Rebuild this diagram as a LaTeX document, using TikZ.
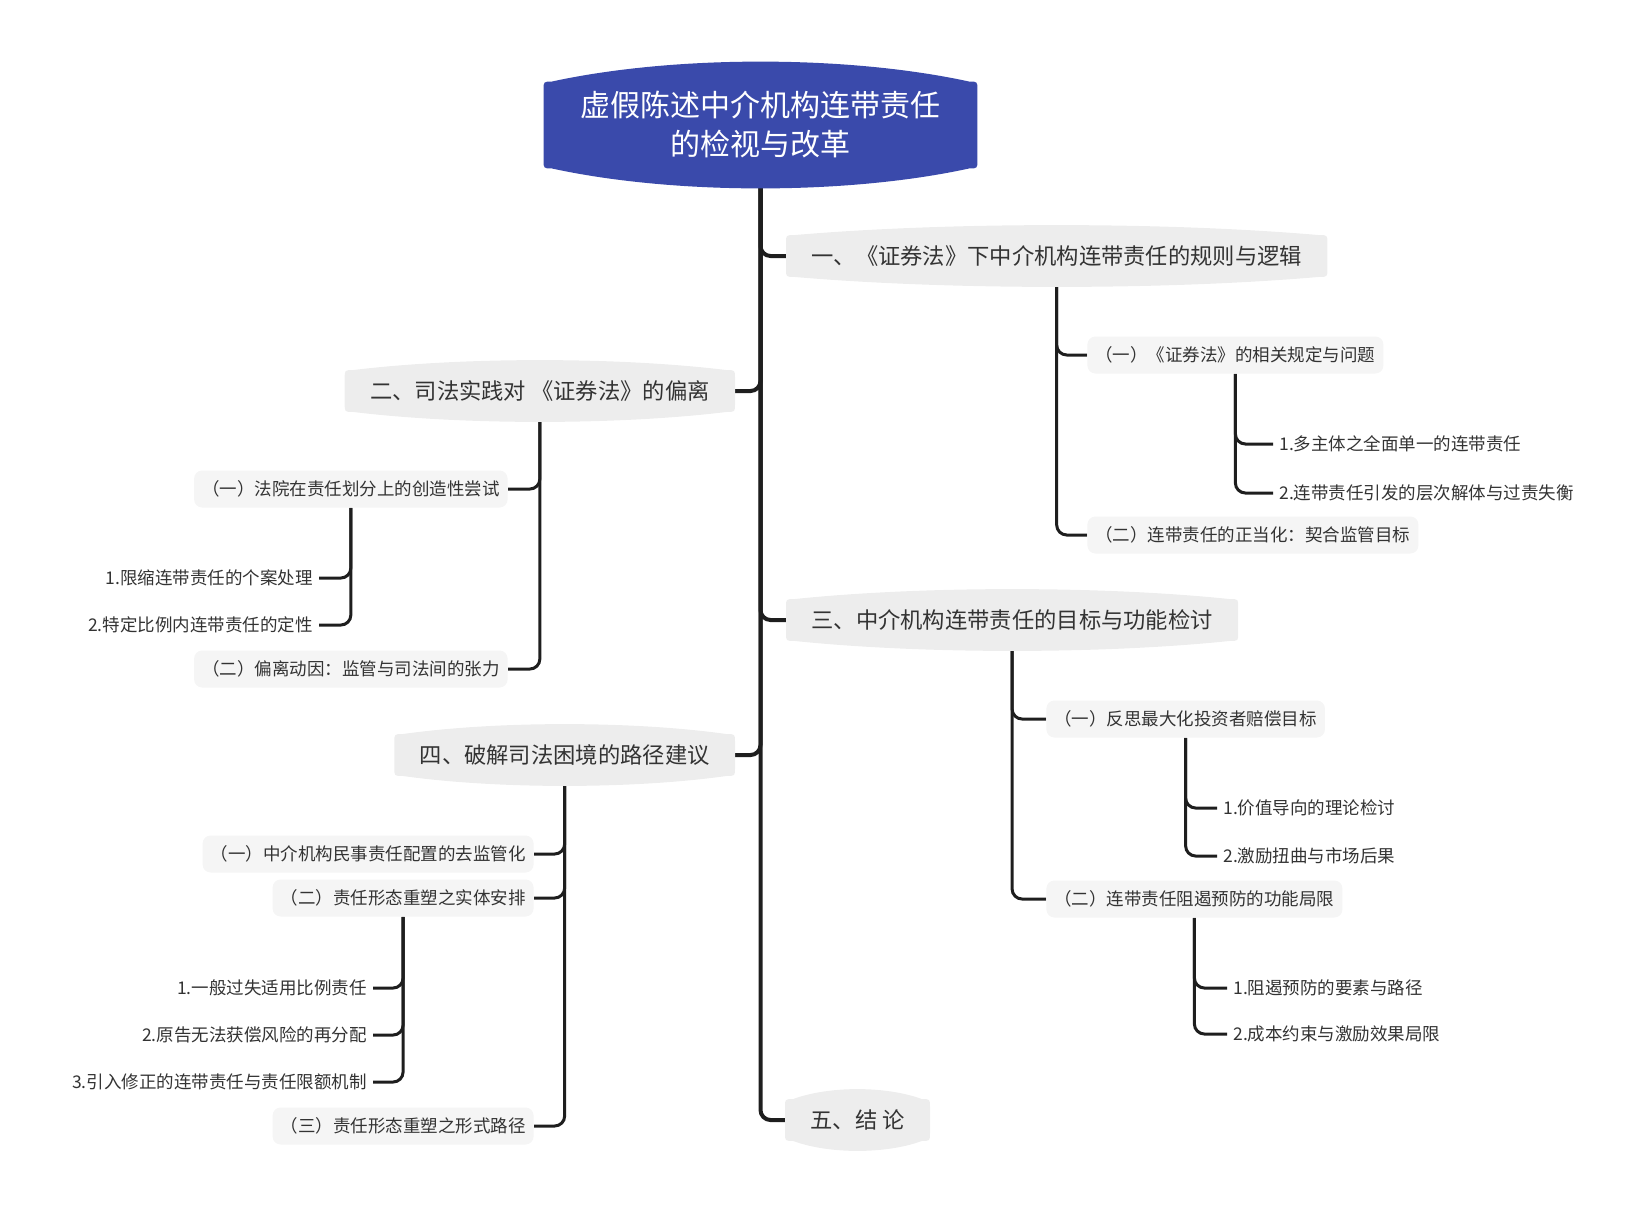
\documentclass[tikz,border=0pt]{standalone}
\usepackage{fontspec}
\setmainfont{Noto Sans CJK SC}
\usetikzlibrary{calc}
\pgfdeclarelayer{edges}
\pgfdeclarelayer{shapes}
\pgfsetlayers{edges,shapes,main}
\definecolor{rootblue}{HTML}{3A4AAB}
\definecolor{lvone}{HTML}{EDEDED}
\definecolor{lvtwo}{HTML}{F5F5F5}
\definecolor{txt}{HTML}{333333}
\definecolor{linec}{HTML}{1E1E1E}

\newcommand\bulgefill[3]{%
 \fill[#3] let \p1=(#1.north west), \p2=(#1.south east) in
 (\x1,{\y1-4pt}) .. controls (\x1,\y1) .. ({\x1+4pt},\y1)
 .. controls ({\x1+(\x2-\x1)*0.3},{\y1+#2*1.333}) and ({\x2-(\x2-\x1)*0.3},{\y1+#2*1.333}) .. ({\x2-4pt},\y1)
 .. controls (\x2,\y1) .. (\x2,{\y1-4pt})
 -- (\x2,{\y2+4pt})
 .. controls (\x2,\y2) .. ({\x2-4pt},\y2)
 .. controls ({\x2-(\x2-\x1)*0.3},{\y2-#2*1.333}) and ({\x1+(\x2-\x1)*0.3},{\y2-#2*1.333}) .. ({\x1+4pt},\y2)
 .. controls (\x1,\y2) .. (\x1,{\y2+4pt}) -- cycle;}

\begin{document}
\begin{tikzpicture}[x=0.5pt,y=-0.5pt,
 rootbox/.style={text=white, font=\fontsize{15pt}{19.5pt}\selectfont, align=center, minimum width=216.5pt, minimum height=43pt, inner sep=0pt},
 topic/.style={text=txt, font=\fontsize{11.15pt}{13pt}\selectfont, inner xsep=12.5pt, inner ysep=0pt, minimum height=20.5pt},
 subtopic/.style={text=txt, fill=lvtwo, rounded corners=4pt, font=\fontsize{8.75pt}{10pt}\selectfont, inner xsep=4pt, inner ysep=0pt, minimum height=18.5pt},
 leaf/.style={text=txt, font=\fontsize{8.75pt}{10pt}\selectfont, inner xsep=3pt, inner ysep=2pt},
 trunk/.style={draw=linec, line width=2pt, rounded corners=5pt},
 branch/.style={draw=linec, line width=1.5pt, rounded corners=5pt}]
\useasboundingbox (0,0) rectangle (1640,1212);

% root
\node[rootbox] (root) at (760.5,125) {虚假陈述中介机构连带责任\\的检视与改革};

% level 1
\node[topic, anchor=west] (n1) at (786,256) {一、《证券法》下中介机构连带责任的规则与逻辑};
\node[topic, anchor=east] (n2) at (735,391) {二、司法实践对 《证券法》的偏离};
\node[topic, anchor=west] (n3) at (786,620) {三、中介机构连带责任的目标与功能检讨};
\node[topic, anchor=east] (n4) at (735,755) {四、破解司法困境的路径建议};
\node[topic, anchor=west] (n5) at (785,1120) {五、结 论};

% level 2
\node[subtopic, anchor=west] (a1) at (1087,355) {（一）《证券法》的相关规定与问题};
\node[subtopic, anchor=west] (a2) at (1087,535) {（二）连带责任的正当化：契合监管目标};
\node[subtopic, anchor=east] (b1) at (508,489) {（一）法院在责任划分上的创造性尝试};
\node[subtopic, anchor=east] (b2) at (508,669) {（二）偏离动因：监管与司法间的张力};
\node[subtopic, anchor=west] (c1) at (1046,719) {（一）反思最大化投资者赔偿目标};
\node[subtopic, anchor=west] (c2) at (1046,899) {（二）连带责任阻遏预防的功能局限};
\node[subtopic, anchor=east] (d1) at (534,854) {（一）中介机构民事责任配置的去监管化};
\node[subtopic, anchor=east] (d2) at (534,898) {（二）责任形态重塑之实体安排};
\node[subtopic, anchor=east] (d3) at (534,1126) {（三）责任形态重塑之形式路径};

% level 3
\node[leaf, anchor=west] (a11) at (1273,444) {1.多主体之全面单一的连带责任};
\node[leaf, anchor=west] (a12) at (1273,493) {2.连带责任引发的层次解体与过责失衡};
\node[leaf, anchor=east] (b11) at (319,578) {1.限缩连带责任的个案处理};
\node[leaf, anchor=east] (b12) at (319,625) {2.特定比例内连带责任的定性};
\node[leaf, anchor=west] (c11) at (1217,808) {1.价值导向的理论检讨};
\node[leaf, anchor=west] (c12) at (1217,856) {2.激励扭曲与市场后果};
\node[leaf, anchor=west] (c21) at (1227,988) {1.阻遏预防的要素与路径};
\node[leaf, anchor=west] (c22) at (1227,1034) {2.成本约束与激励效果局限};
\node[leaf, anchor=east] (d21) at (373,988) {1.一般过失适用比例责任};
\node[leaf, anchor=east] (d22) at (373,1035) {2.原告无法获偿风险的再分配};
\node[leaf, anchor=east] (d23) at (373,1082) {3.引入修正的连带责任与责任限额机制};

\begin{pgfonlayer}{shapes}
\bulgefill{root}{10pt}{rootblue}
\bulgefill{n1}{5pt}{lvone}
\bulgefill{n2}{5pt}{lvone}
\bulgefill{n3}{5pt}{lvone}
\bulgefill{n4}{5pt}{lvone}
\bulgefill{n5}{5pt}{lvone}
\end{pgfonlayer}

\begin{pgfonlayer}{edges}
\draw[trunk] (root.south) |- (n1.west);
\draw[trunk] (root.south) |- (n2.east);
\draw[trunk] (root.south) |- (n3.west);
\draw[trunk] (root.south) |- (n4.east);
\draw[trunk] (root.south) |- (n5.west);

\draw[branch] (n1.south) |- (a1.west);
\draw[branch] (n1.south) |- (a2.west);
\draw[branch] (n2.south) |- (b1.east);
\draw[branch] (n2.south) |- (b2.east);
\draw[branch] (n3.south) |- (c1.west);
\draw[branch] (n3.south) |- (c2.west);
\draw[branch] (n4.south) |- (d1.east);
\draw[branch] (n4.south) |- (d2.east);
\draw[branch] (n4.south) |- (d3.east);

\draw[branch] (a1.south) |- (a11.west);
\draw[branch] (a1.south) |- (a12.west);
\draw[branch] (b1.south) |- (b11.east);
\draw[branch] (b1.south) |- (b12.east);
\draw[branch] (c1.south) |- (c11.west);
\draw[branch] (c1.south) |- (c12.west);
\draw[branch] (c2.south) |- (c21.west);
\draw[branch] (c2.south) |- (c22.west);
\draw[branch] (d2.south) |- (d21.east);
\draw[branch] (d2.south) |- (d22.east);
\draw[branch] (d2.south) |- (d23.east);
\end{pgfonlayer}
\end{tikzpicture}
\end{document}
